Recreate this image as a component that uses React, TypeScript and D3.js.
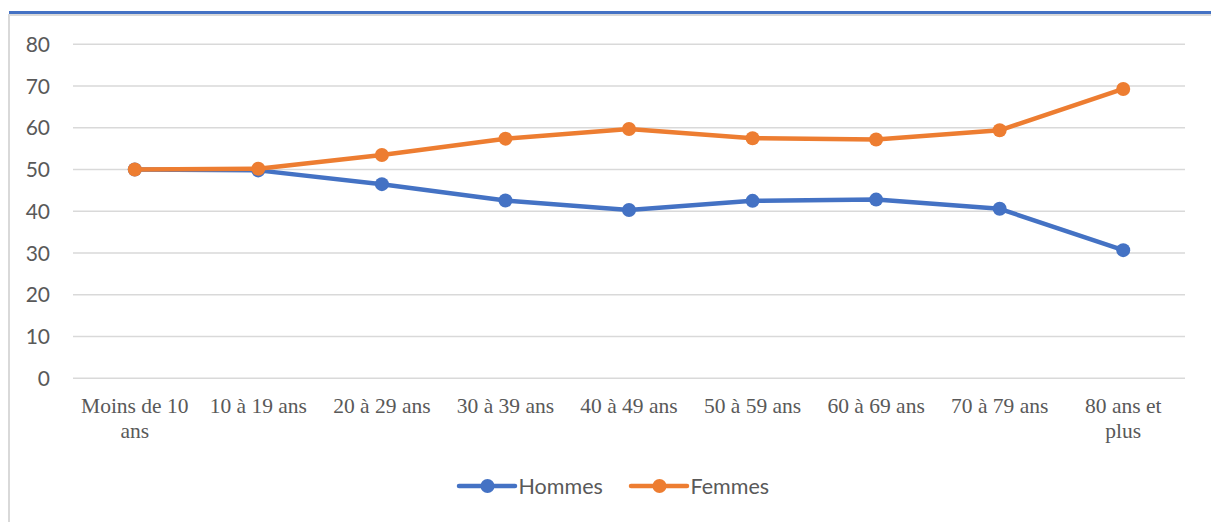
import React, { useEffect, useRef } from "react";
import * as d3 from "d3";

const categories = [
  "Moins de 10 ans",
  "10 à 19 ans",
  "20 à 29 ans",
  "30 à 39 ans",
  "40 à 49 ans",
  "50 à 59 ans",
  "60 à 69 ans",
  "70 à 79 ans",
  "80 ans et plus",
];
const categoryLines = [
  ["Moins de 10", "ans"],
  ["10 à 19 ans"],
  ["20 à 29 ans"],
  ["30 à 39 ans"],
  ["40 à 49 ans"],
  ["50 à 59 ans"],
  ["60 à 69 ans"],
  ["70 à 79 ans"],
  ["80 ans et", "plus"],
];
const hommes = [50.0, 49.8, 46.5, 42.6, 40.3, 42.5, 42.8, 40.6, 30.7];
const femmes = [50.0, 50.2, 53.5, 57.4, 59.7, 57.5, 57.2, 59.4, 69.3];
const yTicks = [0, 10, 20, 30, 40, 50, 60, 70, 80];
const seriesNames = ["Hommes", "Femmes"];
const seriesColors = ["#4472C4", "#ED7D31"];

const W = 1211;
const H = 522;

export default function App() {
  const ref = useRef<SVGSVGElement>(null);
  useEffect(() => {
    const svg = d3.select(ref.current);
    svg.selectAll("*").remove();

    // frame
    svg.append("rect").attr("x", 0).attr("y", 0).attr("width", W).attr("height", H).attr("fill", "#fff");
    svg.append("line").attr("x1", 9).attr("x2", 9).attr("y1", 14).attr("y2", H).attr("stroke", "#D9D9D9").attr("stroke-width", 2);
    svg.append("line").attr("x1", 9).attr("x2", W).attr("y1", 15).attr("y2", 15).attr("stroke", "#D9D9D9").attr("stroke-width", 2);
    svg.append("line").attr("x1", 9).attr("x2", W).attr("y1", 12.5).attr("y2", 12.5).attr("stroke", "#4472C4").attr("stroke-width", 3);

    const x = d3.scaleBand().domain(categories).range([73, 1185]);
    const y = d3.scaleLinear().domain([0, 80]).range([378.3, 44.3]);
    const cx = (c: string) => (x(c) as number) + x.bandwidth() / 2;

    // gridlines
    svg.append("g").selectAll("line").data(yTicks).join("line")
      .attr("x1", 73).attr("x2", 1185)
      .attr("y1", (d) => y(d)).attr("y2", (d) => y(d))
      .attr("stroke", "#D9D9D9").attr("stroke-width", 1.5);

    // y labels
    svg.append("g").selectAll("text").data(yTicks).join("text")
      .attr("x", 50).attr("y", (d) => y(d)).attr("dy", "0.36em")
      .attr("text-anchor", "end")
      .attr("font-family", "Lato, 'Open Sans', sans-serif")
      .attr("font-size", 21).attr("fill", "#595959")
      .text((d) => String(d));

    // x labels
    const xl = svg.append("g").selectAll("text").data(categories).join("text")
      .attr("x", (d) => cx(d)).attr("y", 412.5)
      .attr("text-anchor", "middle")
      .attr("font-family", "'Liberation Serif', 'DejaVu Serif', serif")
      .attr("font-size", 21.5).attr("fill", "#595959");
    xl.each(function (d, i) {
      const t = d3.select(this);
      categoryLines[i].forEach((ln, j) => {
        t.append("tspan").attr("x", cx(d)).attr("dy", j === 0 ? 0 : 25.5).text(ln);
      });
    });

    const line = d3.line<number>().x((_, i) => cx(categories[i])).y((v) => y(v));
    [hommes, femmes].forEach((vals, si) => {
      const g = svg.append("g");
      g.append("path").datum(vals).attr("d", line).attr("fill", "none")
        .attr("stroke", seriesColors[si]).attr("stroke-width", 4.5).attr("stroke-linejoin", "round");
      g.selectAll("circle").data(vals).join("circle")
        .attr("cx", (_, i) => cx(categories[i])).attr("cy", (v) => y(v))
        .attr("r", 7).attr("fill", seriesColors[si]);
    });

    // legend
    const legendX = [459, 631];
    seriesNames.forEach((name, si) => {
      const lx = legendX[si];
      const g = svg.append("g");
      g.append("line").attr("x1", lx).attr("x2", lx + 56).attr("y1", 486).attr("y2", 486)
        .attr("stroke", seriesColors[si]).attr("stroke-width", 4.5).attr("stroke-linecap", "round");
      g.append("circle").attr("cx", lx + 28.5).attr("cy", 486).attr("r", 7).attr("fill", seriesColors[si]);
      g.append("text").attr("x", lx + 59.5).attr("y", 486).attr("dy", "0.36em")
        .attr("font-family", "Lato, 'Open Sans', sans-serif")
        .attr("font-size", 21.5).attr("fill", "#595959").text(name);
    });
  }, []);
  return (
    <svg ref={ref} width={W} height={H} style={{ position: "absolute", left: 0, top: 0 }} />
  );
}
